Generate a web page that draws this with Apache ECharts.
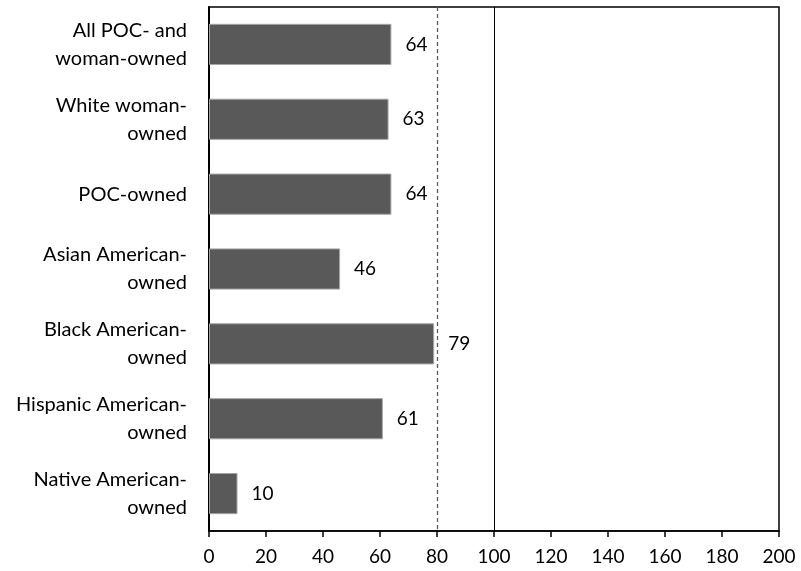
<!DOCTYPE html>
<html><head><meta charset="utf-8">
<script src="https://cdn.jsdelivr.net/npm/echarts@6/dist/echarts.min.js"></script>
<style>html,body{margin:0;padding:0;background:#fff}#c{width:801px;height:571px}</style>
</head><body><div id="c"></div>
<script>
const categories = ["All POC- and\nwoman-owned","White woman-\nowned","POC-owned","Asian American-\nowned","Black American-\nowned","Hispanic American-\nowned","Native American-\nowned"];
const values = [64, 63, 64, 46, 79, 61, 10];
const xTicks = [0,20,40,60,80,100,120,140,160,180,200];
const refDashed = 80;
const refSolid = 100;

const FONT = 'Lato';
const chart = echarts.init(document.getElementById('c'));
chart.setOption({
  animation: false,
  grid: {left: 209, right: 22, top: 7, bottom: 40, show: true, borderColor: '#000', borderWidth: 1.5, backgroundColor: 'transparent'},
  xAxis: {
    type: 'value', min: xTicks[0], max: xTicks[xTicks.length-1], interval: 20,
    axisLine: {show: true, lineStyle: {color: '#000', width: 1.5}},
    axisTick: {show: true, length: 6, lineStyle: {color: '#000', width: 1.5}},
    splitLine: {show: false},
    axisLabel: {fontFamily: FONT, fontSize: 19, color: '#000', margin: 16}
  },
  yAxis: {
    type: 'category', data: categories, inverse: true,
    axisLine: {show: true, lineStyle: {color: '#000', width: 2}},
    axisTick: {show: false},
    axisLabel: {fontFamily: FONT, fontSize: 20, color: '#000', margin: 22, lineHeight: 28, align: 'right'}
  },
  series: [{
    type: 'bar', data: values, barCategoryGap: '45%',
    itemStyle: {color: '#595959', borderColor: '#a6a6a6', borderWidth: 1},
    label: {show: true, position: 'right', distance: 14, fontFamily: FONT, fontSize: 19, color: '#000'},
    markLine: {
      silent: true, symbol: 'none', label: {show: false},
      data: [
        {xAxis: refDashed, lineStyle: {type: [4,3], color: '#595959', width: 1.3}},
        {xAxis: refSolid, lineStyle: {type: 'solid', color: '#000', width: 1}}
      ]
    }
  }]
});
</script></body></html>
